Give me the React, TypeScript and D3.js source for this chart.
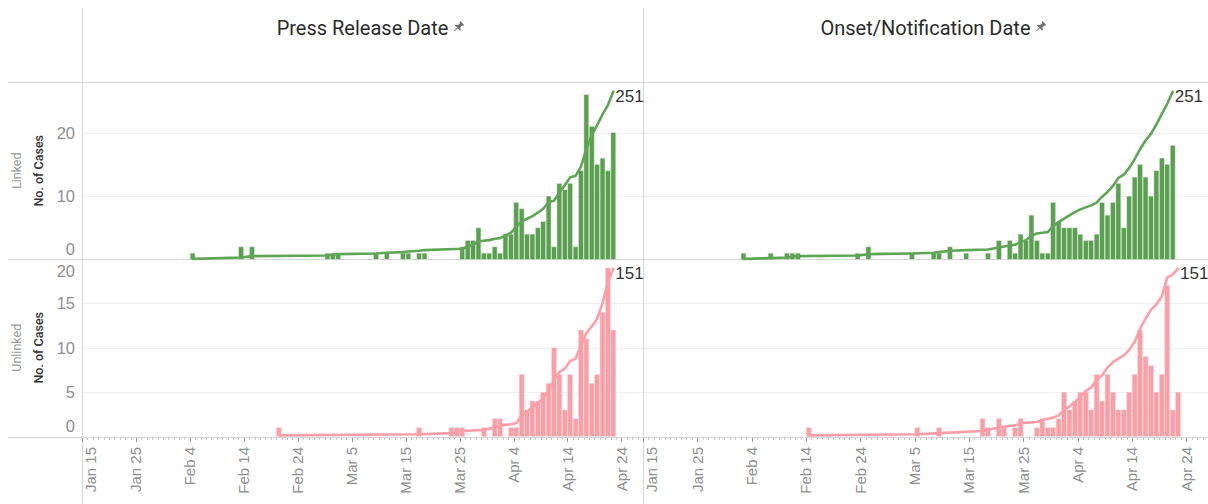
import React, { useRef, useEffect } from 'react';
import * as d3 from 'd3';

// ---------- data ----------
const columns = ['Press Release Date', 'Onset/Notification Date'];
const rows = ['Linked', 'Unlinked'];
const tickDates = ['2020-01-15', '2020-01-25', '2020-02-04', '2020-02-14', '2020-02-24', '2020-03-05', '2020-03-15', '2020-03-25', '2020-04-04', '2020-04-14', '2020-04-24'];
const tickLabels = ['Jan 15', 'Jan 25', 'Feb 4', 'Feb 14', 'Feb 24', 'Mar 5', 'Mar 15', 'Mar 25', 'Apr 4', 'Apr 14', 'Apr 24'];
const linkedTicks = [0, 10, 20];
const unlinkedTicks = [0, 5, 10, 15, 20];

// press release date, linked cases
const pressLinkedEarly: [string, number][] = [
  ['2020-02-04', 1], ['2020-02-13', 2], ['2020-02-15', 2], ['2020-02-29', 1], ['2020-03-01', 1], ['2020-03-02', 1],
  ['2020-03-09', 1], ['2020-03-11', 1], ['2020-03-14', 1], ['2020-03-15', 1], ['2020-03-17', 1], ['2020-03-18', 1]
];
const pressLinkedFromMar25 = [2, 3, 3, 5, 1, 1, 2, 1, 4, 4, 9, 8, 4, 4, 5, 6, 10, 2, 12, 11, 12, 2, 14, 26, 21, 15, 16, 14, 20];

// press release date, unlinked cases
const pressUnlinkedEarly: [string, number][] = [
  ['2020-02-20', 1], ['2020-03-17', 1], ['2020-03-23', 1], ['2020-03-24', 1], ['2020-03-25', 1], ['2020-03-29', 1],
  ['2020-03-31', 2], ['2020-04-01', 2], ['2020-04-03', 1], ['2020-04-04', 1]
];
const pressUnlinkedFromApr5 = [7, 3, 4, 4, 5, 6, 10, 7, 3, 7, 2, 12, 11, 6, 7, 14, 19, 12];

// onset / notification date, linked cases
const onsetLinkedEarly: [string, number][] = [
  ['2020-02-02', 1], ['2020-02-07', 1], ['2020-02-10', 1], ['2020-02-11', 1], ['2020-02-12', 1], ['2020-02-23', 1],
  ['2020-02-25', 2], ['2020-03-04', 1], ['2020-03-08', 1], ['2020-03-09', 1], ['2020-03-11', 2], ['2020-03-14', 1],
  ['2020-03-18', 1], ['2020-03-20', 3]
];
const onsetLinkedFromMar22 = [3, 1, 4, 3, 7, 3, 1, 1, 9, 6, 5, 5, 5, 4, 3, 3, 4, 9, 7, 9, 12, 5, 10, 13, 15, 13, 10, 14, 16, 15, 18];

// onset / notification date, unlinked cases
const onsetUnlinkedEarly: [string, number][] = [
  ['2020-02-14', 1], ['2020-03-05', 1], ['2020-03-09', 1], ['2020-03-17', 2], ['2020-03-18', 1], ['2020-03-20', 2],
  ['2020-03-21', 1], ['2020-03-23', 1], ['2020-03-24', 2], ['2020-03-27', 1], ['2020-03-28', 2], ['2020-03-29', 1],
  ['2020-03-30', 1], ['2020-03-31', 2]
];
const onsetUnlinkedFromApr1 = [5, 3, 4, 5, 5, 3, 7, 4, 7, 5, 3, 3, 5, 7, 12, 9, 8, 5, 7, 17, 3, 5];

type Pt = { date: Date; value: number; cum: number };

const parse = (s: string) => new Date(s + 'T00:00:00Z');

function buildSeries(early: [string, number][], start: string, run: number[]): Pt[] {
  const pts = early.map(([d, v]) => ({ date: parse(d), value: v, cum: 0 }));
  run.forEach((v, i) => {
    if (v > 0) pts.push({ date: d3.utcDay.offset(parse(start), i), value: v, cum: 0 });
  });
  pts.sort((a, b) => +a.date - +b.date);
  let s = 0;
  pts.forEach(p => { s += p.value; p.cum = s; });
  return pts;
}

const series: Pt[][][] = [
  [buildSeries(pressLinkedEarly, '2020-03-25', pressLinkedFromMar25), buildSeries(onsetLinkedEarly, '2020-03-22', onsetLinkedFromMar22)],
  [buildSeries(pressUnlinkedEarly, '2020-04-05', pressUnlinkedFromApr5), buildSeries(onsetUnlinkedEarly, '2020-04-01', onsetUnlinkedFromApr1)]
];

export default function App() {
  const ref = useRef<SVGSVGElement>(null);
  const width = 1208;
  const height = 504;

  useEffect(() => {
    const svg = d3.select(ref.current)
      .attr('width', width)
      .attr('height', height)
      .style('position', 'absolute')
      .style('left', '0px')
      .style('top', '0px')
      .style('background', '#fff');
    svg.selectAll('*').remove();

    const colX = [[82, 643], [643, 1208]];
    const rowY = [[82, 259.5], [259, 436.5]];
    const yMax = [28, 20];
    const yTicks = [linkedTicks, unlinkedTicks];
    const barColor = ['#59a14f', '#ff9da7'];
    const lineColor = ['#5ea656', '#ff9ea8'];
    const border = '#d6d6d6';
    const numFont = '"Liberation Sans", Arial, sans-serif';
    const domain = [parse('2020-01-15'), parse('2020-04-28')];

    //---------- gridlines ----------//
    rows.forEach((r, ri) => {
      const y = d3.scaleLinear().domain([0, yMax[ri]]).range([rowY[ri][1], rowY[ri][0]]);
      colX.forEach(([x0, x1]) => {
        svg.append('g').selectAll('line')
          .data(yTicks[ri].filter(t => t > 0 && y(t) > rowY[ri][0] + 2))
          .join('line')
          .attr('x1', x0).attr('x2', x1)
          .attr('y1', d => Math.round(y(d)) + 0.5).attr('y2', d => Math.round(y(d)) + 0.5)
          .attr('stroke', '#f0f0f0');
      });
    });

    //---------- frame ----------//
    const frame = svg.append('g').attr('stroke', border).attr('stroke-width', 1);
    [82.5, 259.5, 437.5].forEach(y => frame.append('line').attr('x1', 8).attr('x2', width).attr('y1', y).attr('y2', y));
    [82.5, 643.5].forEach(x => frame.append('line').attr('x1', x).attr('x2', x).attr('y1', 8).attr('y2', height));

    //---------- column headers ----------//
    columns.forEach((c, ci) => {
      const cx = (colX[ci][0] + colX[ci][1]) / 2;
      const t = svg.append('text')
        .attr('x', cx).attr('y', 35)
        .attr('text-anchor', 'middle')
        .style('font-family', 'Roboto, sans-serif')
        .style('font-size', '20px')
        .attr('fill', '#2b2b2b')
        .text(c);
      const w = (t.node() as SVGTextElement).getComputedTextLength();
      const pin = svg.append('g')
        .attr('transform', `translate(${cx + w / 2 + 10},${27}) rotate(45)`)
        .attr('fill', '#6f6f6f');
      pin.append('path').attr('d', 'M-2.6,-5.5 h5.2 v1 l-1,0.8 v2.6 l2.2,1.6 v0.9 h-7.6 v-0.9 l2.2,-1.6 v-2.6 l-1,-0.8 z');
      pin.append('rect').attr('x', -0.5).attr('y', 1.4).attr('width', 1).attr('height', 4.2);
    });

    //---------- row headers + y axes ----------//
    rows.forEach((r, ri) => {
      const [y0, y1] = rowY[ri];
      const cy = (y0 + y1) / 2;
      svg.append('text')
        .attr('transform', `translate(17,${cy}) rotate(-90)`)
        .attr('text-anchor', 'middle').attr('dy', '0.35em')
        .style('font-family', 'Roboto, sans-serif').style('font-size', '12.5px')
        .attr('fill', '#9a9a9a')
        .text(r);
      svg.append('text')
        .attr('transform', `translate(39,${cy}) rotate(-90)`)
        .attr('text-anchor', 'middle').attr('dy', '0.35em')
        .style('font-family', 'Roboto, sans-serif').style('font-size', '12.5px').style('font-weight', 500)
        .attr('fill', '#333')
        .text('No. of Cases');
      const y = d3.scaleLinear().domain([0, yMax[ri]]).range([y1, y0]);
      svg.append('g').selectAll('text')
        .data(yTicks[ri])
        .join('text')
        .attr('x', 75)
        .attr('y', d => Math.min(Math.max(y(d), y0 + 12), y1 - 10.5))
        .attr('dy', '0.36em')
        .attr('text-anchor', 'end')
        .style('font-family', numFont).style('font-size', '16.5px')
        .attr('fill', '#8f8f8f')
        .text(d => d);
    });

    //---------- panels ----------//
    rows.forEach((r, ri) => {
      const [y0, y1] = rowY[ri];
      colX.forEach(([x0, x1], ci) => {
        const data = series[ri][ci];
        const x = d3.scaleUtc().domain(domain).range([x0, x1]);
        const day = x(parse('2020-01-16')) - x(parse('2020-01-15'));
        const cx = (d: Date) => x(d) + day / 2;
        const y = d3.scaleLinear().domain([0, yMax[ri]]).range([y1, y0]);
        const total = d3.max(data, d => d.cum) as number;
        const ly = d3.scaleLinear().domain([0, total * 1.058]).range([y1, y0]);

        svg.append('g').selectAll('rect')
          .data(data)
          .join('rect')
          .attr('x', d => cx(d.date) - day / 2 + 0.25)
          .attr('width', day - 0.5)
          .attr('y', d => y(d.value))
          .attr('height', d => y(0) - y(d.value))
          .attr('fill', barColor[ri])
          .attr('stroke', 'rgba(225,225,225,0.9)')
          .attr('stroke-width', 0.6);

        const line = d3.line<Pt>().x(d => cx(d.date)).y(d => ly(d.cum));
        svg.append('path')
          .datum(data)
          .attr('d', line)
          .attr('fill', 'none')
          .attr('stroke', lineColor[ri])
          .attr('stroke-width', 2.6)
          .attr('stroke-linejoin', 'round')
          .attr('stroke-linecap', 'round');

        const last = data[data.length - 1];
        svg.append('text')
          .attr('x', cx(last.date) + 2)
          .attr('y', ly(last.cum) + 10.5)
          .style('font-family', numFont).style('font-size', '17px')
          .attr('fill', '#333')
          .text(total);

        //---------- x axis (bottom row only) ----------//
        if (ri === 1) {
          const days = d3.utcDay.range(domain[0], domain[1]);
          svg.append('g').selectAll('line')
            .data(days)
            .join('line')
            .attr('x1', d => Math.round(x(d)) + 0.5).attr('x2', d => Math.round(x(d)) + 0.5)
            .attr('y1', 438).attr('y2', 439.5)
            .attr('stroke', '#9a9a9a').attr('stroke-width', 0.8);
          const ticks = tickDates.map(parse);
          svg.append('g').selectAll('line')
            .data(ticks)
            .join('line')
            .attr('x1', d => Math.round(x(d)) + 0.5).attr('x2', d => Math.round(x(d)) + 0.5)
            .attr('y1', 438).attr('y2', 442)
            .attr('stroke', '#9a9a9a');
          svg.append('g').selectAll('text')
            .data(ticks)
            .join('text')
            .attr('transform', d => `translate(${Math.max(x(d), x0 + 9)},447) rotate(-90)`)
            .attr('text-anchor', 'end')
            .attr('dy', '0.35em')
            .style('font-family', numFont).style('font-size', '15px')
            .attr('fill', '#8f8f8f')
            .text((d, i) => tickLabels[i]);
        }
      });
    });
  }, []);

  return <svg ref={ref}></svg>;
}
